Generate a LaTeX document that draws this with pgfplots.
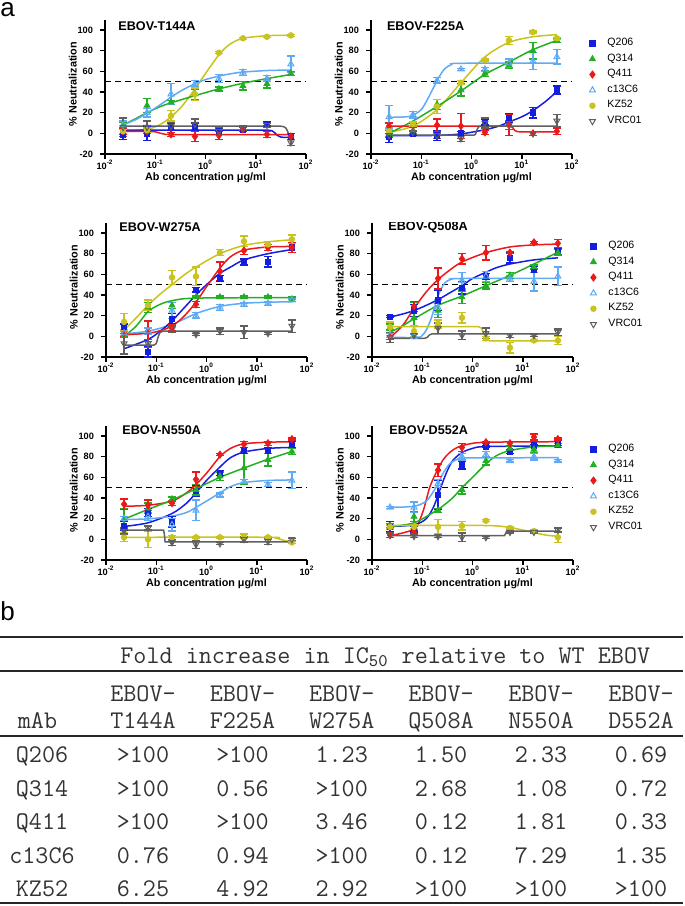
\documentclass[border=0pt]{standalone}
\usepackage{fontspec}
\setmainfont{Liberation Sans}
\usepackage{pgfplots}
\pgfplotsset{compat=1.18}

\definecolor{cQa}{RGB}{20,30,225}   % Q206
\definecolor{cQb}{RGB}{35,175,35}   % Q314
\definecolor{cQc}{RGB}{235,25,25}   % Q411
\definecolor{cC}{RGB}{95,170,245}   % c13C6
\definecolor{cK}{RGB}{200,195,30}   % KZ52
\definecolor{cV}{RGB}{95,95,95}     % VRC01

\tikzset{ttl/.style={anchor=west, font=\bfseries\fontsize{6.3}{7}\selectfont, inner sep=0pt}}

\pgfplotsset{
  every axis/.append style={
    scale only axis, width=100.5pt, height=67.15pt,
    xmin=0.01, xmax=100, ymin=-20, ymax=110,
    axis x line*=bottom, axis y line*=left,
    axis line style={line width=0.75pt, -},
    every tick/.style={black, line width=0.75pt},
    tick align=outside, major tick length=2.5pt,
    xminorticks=false,
    xtick={0.01,0.1,1,10,100},
    xticklabels={10\textsuperscript{-2},10\textsuperscript{-1},10\textsuperscript{0},10\textsuperscript{1},10\textsuperscript{2}},
    ytick={-20,0,20,40,60,80,100},
    yticklabels={-20,0,20,40,60,80,100},
    ticklabel style={font=\bfseries\fontsize{4.6}{5}\selectfont},
    xticklabel style={yshift=2.8pt},
    xlabel={Ab concentration μg/ml}, ylabel={\% Neutralization},
    label style={font=\bfseries\fontsize{5.4}{6}\selectfont},
    xlabel style={at={(axis description cs:0.5,-0.18)}, anchor=center},
    ylabel style={at={(axis description cs:-0.16,0.52)}, anchor=center},
    legend cell align=left,
    legend style={draw=none, fill=none, at={(axis description cs:1.05,0.9075)}, anchor=north west,
      font=\fontsize{5.3}{6}\selectfont, row sep=1.0pt, nodes={inner sep=0.8pt}},
    legend image code/.code={\draw[##1] plot coordinates {(0pt,0pt)}; \path (-1.8pt,0pt) (6.5pt,0pt);},
  },
  mkQa/.style={color=cQa, mark=square*, mark size=1.4pt},
  mkQb/.style={color=cQb, mark=triangle*, mark size=1.7pt},
  mkQc/.style={color=cQc, mark=diamond*, mark size=1.8pt},
  mkC/.style={color=cC, mark=triangle, mark size=1.7pt, mark options={line width=0.5pt}},
  mkK/.style={color=cK, mark=*, mark size=1.4pt},
  mkV/.style={color=cV, mark=triangle, mark size=1.7pt, mark options={rotate=180, line width=0.5pt}},
  errs/.style={forget plot, only marks,
    error bars/y dir=both, error bars/y explicit,
    error bars/error bar style={line width=0.7pt},
    error bars/error mark options={rotate=90, mark size=2pt, line width=0.7pt}},
  crv/.style={forget plot, no markers, line width=0.75pt},
  dash50/.style={forget plot, black, line width=0.75pt, dash pattern=on 3pt off 2pt},
}

\begin{document}
\begin{tikzpicture}
\path[use as bounding box] (0pt,0pt) rectangle (342.5pt,-453pt);
\node[anchor=base west, inner sep=0pt, text height=6.5pt, text depth=0pt, font=\fontsize{13}{13}\selectfont] at (0pt,-8.1pt) {a};
\node[anchor=base west, inner sep=0pt, font=\fontsize{13}{13}\selectfont] at (0pt,-310.35pt) {b};

% ---------- EBOV-T144A
\begin{semilogxaxis}[at={(52.5pt,-77pt)}, anchor=south west]
\node[ttl] at (rel axis cs:0.065,0.955) {EBOV-T144A};
\addplot[dash50] coordinates {(0.01,50) (100,50)};
\addplot[crv, cK, smooth] coordinates {(0.0229,1.5) (0.0686,4) (0.12,8) (0.206,16) (0.35,27) (0.617,43) (1,58) (1.85,76) (3,86) (5.56,92) (16.7,94.5) (50,95)};
\addplot[crv, cQb, smooth] coordinates {(0.0229,8) (0.04,14) (0.0686,20) (0.12,25.5) (0.206,29.5) (0.617,36.5) (1.85,43) (5.56,48.5) (16.7,53) (50,57)};
\addplot[crv, cC, smooth] coordinates {(0.0229,8.5) (0.04,13) (0.0686,19.5) (0.12,27) (0.206,35) (0.35,42) (0.617,48) (1,52) (1.85,55.5) (3.5,58) (5.56,59.3) (16.7,60.8) (50,61.3)};
\addplot[crv, cQa] coordinates {(0.0229,3) (18,3) (21,2.5) (24,0.5) (27,-2) (31,-3.5) (38,-4) (50,-4)};
\addplot[crv, cQc] coordinates {(0.0229,2) (0.07,2) (0.1,1.5) (0.13,0) (0.16,-1) (0.2,-1.2) (50,-1.2)};
\addplot[crv, cV] coordinates {(0.0229,7) (30,7) (36,6.5) (40,5) (43,2) (46,-2) (50,-8)};
\addplot[errs, mkQa] coordinates {(0.0229,-1)+-(0,5) (0.0686,0)+-(0,7) (0.206,7)+-(0,3) (0.617,6)+-(0,4) (1.85,2)+-(0,3) (5.56,4)+-(0,2) (16.7,9)+-(0,2) (50,-3)+-(0,3)};
\addplot[errs, mkQb] coordinates {(0.0229,8)+-(0,3) (0.0686,27)+-(0,7) (0.206,30)+-(0,2) (0.617,38)+-(0,5) (1.85,43)+-(0,2) (5.56,46)+-(0,4) (16.7,48)+-(0,4) (50,58)+-(0,2)};
\addplot[errs, mkQc] coordinates {(0.0229,2)+-(0,3) (0.0686,2)+-(0,2) (0.206,-1)+-(0,2) (0.617,-3)+-(0,5) (1.85,-2)+-(0,4) (5.56,4)+-(0,2) (16.7,-1)+-(0,3) (50,-3)+-(0,3)};
\addplot[errs, mkC] coordinates {(0.0229,8)+-(0,4) (0.0686,20)+-(0,4) (0.206,38)+-(0,10) (0.617,48)+-(0,3) (1.85,53)+-(0,4) (5.56,59)+-(0,3) (16.7,53)+-(0,3) (50,67)+-(0,8)};
\addplot[errs, mkK] coordinates {(0.0229,2)+-(0,2) (0.0686,3)+-(0,2) (0.206,17)+-(0,5) (0.617,38)+-(0,6) (1.85,78)+-(0,1) (5.56,92)+-(0,1) (16.7,93.5)+-(0,1) (50,94.8)+-(0,1)};
\addplot[errs, mkV] coordinates {(0.0229,6)+-(0,9) (0.0686,6)+-(0,6) (0.206,7)+-(0,3) (0.617,9)+-(0,5) (1.85,2)+-(0,3) (5.56,5)+-(0,2) (16.7,8)+-(0,2) (50,-9)+-(0,3)};
\end{semilogxaxis}

% ---------- EBOV-F225A
\begin{semilogxaxis}[at={(185.5pt,-77pt)}, anchor=south west]
\node[ttl] at (rel axis cs:0.078,0.955) {EBOV-F225A};
\addplot[dash50] coordinates {(0.01,50) (100,50)};
\addplot[crv, cK, smooth] coordinates {(0.0229,1) (0.0686,7) (0.206,23) (0.617,49) (1.85,74) (5.56,88) (16.7,93.5) (50,95.5)};
\addplot[crv, cQb, smooth] coordinates {(0.0229,0) (0.04,6) (0.0686,12) (0.206,26) (0.617,41) (1.85,57) (5.56,69) (16.7,81) (50,90)};
\addplot[crv, cC, smooth] coordinates {(0.0229,15.5) (0.05,16) (0.0686,17.5) (0.1,23) (0.13,32) (0.17,43) (0.206,51) (0.25,58) (0.3,63) (0.4,66.5) (0.6,67.8) (50,68)};
\addplot[crv, cQa, smooth] coordinates {(0.0229,-2.3) (0.206,-2) (0.617,-0.5) (1.85,3.5) (3.5,7) (5.56,11) (10,16) (16.7,22) (30,31) (50,40.5)};
\addplot[crv, cQc] coordinates {(0.0229,7) (5.5,7) (6.5,6) (7.2,3) (8,1.7) (9,1.5) (50,1.5)};
\addplot[crv, cV] coordinates {(0.0229,-1.8) (1.1,-1.8) (1.2,-1) (1.3,4) (1.4,6.5) (1.6,7) (50,7)};
\addplot[errs, mkQa] coordinates {(0.0229,-3)+-(0,6) (0.0686,0)+-(0,2) (0.206,-2)+-(0,5) (0.617,0)+-(0,2) (1.85,11)+-(0,3) (5.56,15)+-(0,4) (16.7,20)+-(0,5) (50,42)+-(0,4)};
\addplot[errs, mkQb] coordinates {(0.0229,0)+-(0,3) (0.0686,3)+-(0,3) (0.206,28)+-(0,5) (0.617,42)+-(0,6) (1.85,58)+-(0,3) (5.56,66)+-(0,3) (16.7,80)+-(0,8) (50,90)+-(0,2)};
\addplot[errs, mkQc] coordinates {(0.0229,7)+-(0,3) (0.0686,8)+-(0,2) (0.206,8)+-(0,6) (0.617,7)+-(0,12) (1.85,1)+-(0,2) (5.56,8)+-(0,10) (16.7,0)+-(0,2) (50,2)+-(0,3)};
\addplot[errs, mkC] coordinates {(0.0229,16)+-(0,11) (0.0686,18)+-(0,3) (0.206,51)+-(0,3) (0.617,62)+-(0,1) (1.85,62)+-(0,2) (5.56,68)+-(0,4) (16.7,70)+-(0,8) (50,74)+-(0,7)};
\addplot[errs, mkK] coordinates {(0.0229,2)+-(0,2) (0.0686,9)+-(0,2) (0.206,26)+-(0,7) (0.617,49)+-(0,2) (1.85,71)+-(0,1) (5.56,90)+-(0,4) (16.7,98)+-(0,1) (50,92)+-(0,1)};
\addplot[errs, mkV] coordinates {(0.0229,-2)+-(0,2) (0.0686,1)+-(0,2) (0.206,-2)+-(0,3) (0.617,-5)+-(0,3) (1.85,10)+-(0,5) (5.56,8)+-(0,4) (16.7,0)+-(0,2) (50,12)+-(0,6)};
\addlegendimage{mkQa}\addlegendentry{Q206}
\addlegendimage{mkQb}\addlegendentry{Q314}
\addlegendimage{mkQc}\addlegendentry{Q411}
\addlegendimage{mkC}\addlegendentry{c13C6}
\addlegendimage{mkK}\addlegendentry{KZ52}
\addlegendimage{mkV}\addlegendentry{VRC01}
\end{semilogxaxis}

% ---------- EBOV-W275A
\begin{semilogxaxis}[at={(53pt,-178.5pt)}, anchor=south west]
\node[ttl] at (rel axis cs:0.065,0.965) {EBOV-W275A};
\addplot[dash50] coordinates {(0.01,50) (100,50)};
\addplot[crv, cK, smooth] coordinates {(0.0229,6) (0.04,18) (0.0686,30) (0.12,41) (0.206,50) (0.35,59) (0.617,67) (1.85,80) (5.56,88) (16.7,91.5) (50,93.5)};
\addplot[crv, cQb, smooth] coordinates {(0.0229,0) (0.04,10) (0.0686,24) (0.12,31) (0.206,34.5) (0.617,37) (50,37.5)};
\addplot[crv, cC, smooth] coordinates {(0.0229,2.5) (0.0686,5) (0.206,11.5) (0.617,22) (1.85,29) (5.56,32) (16.7,33) (50,33.5)};
\addplot[crv, cQa, smooth] coordinates {(0.0229,-12) (0.0686,-3) (0.12,5) (0.206,15) (0.35,27) (0.617,40) (1,50) (1.85,61) (3,67) (5.56,74) (16.7,80) (50,84)};
\addplot[crv, cQc, smooth] coordinates {(0.0229,1.5) (0.0686,3) (0.12,5.5) (0.206,10) (0.35,19) (0.617,33) (1,48) (1.85,66) (3,77) (5.56,83.5) (16.7,86.5) (50,87)};
\addplot[crv, cV] coordinates {(0.0229,-8.5) (0.09,-8.5) (0.1,-7) (0.11,0) (0.12,4) (0.14,5) (50,5)};
\addplot[errs, mkQa] coordinates {(0.0229,9)+-(0,3) (0.0686,-15)+-(0,5) (0.206,17)+-(0,5) (0.617,45)+-(0,2) (1.85,56)+-(0,3) (5.56,72)+-(0,3) (16.7,72)+-(0,5) (50,86)+-(0,5)};
\addplot[errs, mkQb] coordinates {(0.0229,1)+-(0,2) (0.0686,28)+-(0,5) (0.206,30)+-(0,3) (0.617,38)+-(0,1) (1.85,38)+-(0,1) (5.56,38)+-(0,1) (16.7,38)+-(0,1) (50,36)+-(0,2)};
\addplot[errs, mkQc] coordinates {(0.0229,3)+-(0,3) (0.0686,5)+-(0,10) (0.206,8)+-(0,3) (0.617,31)+-(0,3) (1.85,63)+-(0,9) (5.56,83)+-(0,4) (16.7,86)+-(0,3) (50,86)+-(0,5)};
\addplot[errs, mkC] coordinates {(0.0229,3)+-(0,2) (0.0686,5)+-(0,3) (0.206,25)+-(0,8) (0.617,20)+-(0,3) (1.85,28)+-(0,3) (5.56,31)+-(0,2) (16.7,32)+-(0,2) (50,35)+-(0,1)};
\addplot[errs, mkK] coordinates {(0.0229,14)+-(0,8) (0.0686,30)+-(0,5) (0.206,57)+-(0,7) (0.617,58)+-(0,9) (1.85,81)+-(0,3) (5.56,92)+-(0,5) (16.7,89)+-(0,3) (50,94)+-(0,4)};
\addplot[errs, mkV] coordinates {(0.0229,-7)+-(0,10) (0.0686,-7)+-(0,4) (0.206,7)+-(0,3) (0.617,2)+-(0,1) (1.85,5)+-(0,3) (5.56,4)+-(0,6) (16.7,3)+-(0,1) (50,10)+-(0,6)};
\end{semilogxaxis}

% ---------- EBOV-Q508A
\begin{semilogxaxis}[at={(186pt,-178.5pt)}, anchor=south west]
\node[ttl] at (rel axis cs:0.08,0.965) {EBOV-Q508A};
\addplot[dash50] coordinates {(0.01,50) (100,50)};
\addplot[crv, cQc, smooth] coordinates {(0.0229,-1) (0.04,10) (0.0686,27) (0.12,43) (0.206,55) (0.35,64) (0.617,72) (1.85,81) (5.56,86.5) (16.7,88.5) (50,89.3)};
\addplot[crv, cQa, smooth] coordinates {(0.0229,18.7) (0.04,21.5) (0.0686,25) (0.12,30) (0.206,35.5) (0.35,42) (0.617,49) (1,56) (1.85,62) (3,66.5) (5.56,70) (16.7,74) (50,76)};
\addplot[crv, cQb, smooth] coordinates {(0.0229,4) (0.04,10) (0.0686,17) (0.206,30) (0.617,39) (1.85,49) (5.56,59) (16.7,70) (50,81.5)};
\addplot[crv, cC, smooth] coordinates {(0.0229,-1) (0.08,-1) (0.1,1) (0.12,6) (0.15,17) (0.18,30) (0.21,40) (0.25,48) (0.3,53) (0.4,55.5) (0.6,56) (50,56)};
\addplot[crv, cK] coordinates {(0.0229,9.5) (1.3,9.5) (1.5,8) (1.7,2) (1.9,-3) (2.2,-4.5) (50,-4.5)};
\addplot[crv, cV] coordinates {(0.0229,-2) (0.11,-2) (0.125,-1) (0.14,1.5) (0.16,2.5) (50,2.5)};
\addplot[errs, mkQa] coordinates {(0.0229,19)+-(0,1) (0.0686,25)+-(0,6) (0.206,35)+-(0,10) (0.617,47)+-(0,6) (1.85,58)+-(0,3) (5.56,76)+-(0,5) (16.7,65)+-(0,3) (50,82)+-(0,3)};
\addplot[errs, mkQb] coordinates {(0.0229,9)+-(0,3) (0.0686,18)+-(0,15) (0.206,25)+-(0,7) (0.617,38)+-(0,6) (1.85,49)+-(0,3) (5.56,59)+-(0,3) (16.7,67)+-(0,2) (50,81)+-(0,3)};
\addplot[errs, mkQc] coordinates {(0.0229,0)+-(0,3) (0.0686,29)+-(0,5) (0.206,56)+-(0,10) (0.617,75)+-(0,5) (1.85,81)+-(0,7) (5.56,81)+-(0,1) (16.7,91)+-(0,1) (50,90)+-(0,4)};
\addplot[errs, mkC] coordinates {(0.0229,1)+-(0,2) (0.0686,0)+-(0,2) (0.206,28)+-(0,7) (0.617,54)+-(0,8) (1.85,58)+-(0,5) (5.56,56)+-(0,3) (16.7,53)+-(0,9) (50,58)+-(0,9)};
\addplot[errs, mkK] coordinates {(0.0229,9)+-(0,5) (0.0686,5)+-(0,5) (0.206,12)+-(0,4) (0.617,18)+-(0,5) (1.85,-2)+-(0,2) (5.56,-11)+-(0,5) (16.7,-4)+-(0,1) (50,-4)+-(0,4)};
\addplot[errs, mkV] coordinates {(0.0229,-1)+-(0,5) (0.0686,1)+-(0,2) (0.206,8)+-(0,5) (0.617,1)+-(0,4) (1.85,3)+-(0,5) (5.56,1)+-(0,2) (16.7,1)+-(0,1) (50,4)+-(0,3)};
\addlegendimage{mkQa}\addlegendentry{Q206}
\addlegendimage{mkQb}\addlegendentry{Q314}
\addlegendimage{mkQc}\addlegendentry{Q411}
\addlegendimage{mkC}\addlegendentry{c13C6}
\addlegendimage{mkK}\addlegendentry{KZ52}
\addlegendimage{mkV}\addlegendentry{VRC01}
\end{semilogxaxis}

% ---------- EBOV-N550A
\begin{semilogxaxis}[at={(53pt,-280pt)}, anchor=south west]
\node[ttl] at (rel axis cs:0.08,0.968) {EBOV-N550A};
\addplot[dash50] coordinates {(0.01,50) (100,50)};
\addplot[crv, cQc, smooth] coordinates {(0.0229,32) (0.0686,33) (0.206,37) (0.4,45) (0.617,53) (1,64) (1.85,80) (3,88) (5.56,92.5) (16.7,94) (50,94.5)};
\addplot[crv, cQa, smooth] coordinates {(0.0229,12.5) (0.0686,16) (0.206,25) (0.4,35) (0.617,45) (1,57) (1.85,70) (3,79) (5.56,84.5) (16.7,88) (50,89)};
\addplot[crv, cQb, smooth] coordinates {(0.0229,19.5) (0.0686,29) (0.206,38) (0.617,49) (1.85,60) (5.56,69) (16.7,77.5) (50,85)};
\addplot[crv, cC, smooth] coordinates {(0.0229,19.3) (0.0686,19.8) (0.206,22.5) (0.4,26) (0.617,31) (1,37) (1.85,45) (3,51) (5.56,55) (16.7,57) (50,57.5)};
\addplot[crv, cK, smooth] coordinates {(0.0229,2) (16.7,2) (25,1) (35,-1) (50,-2.5)};
\addplot[crv, cV] coordinates {(0.0229,9) (0.14,9) (0.145,5) (0.15,-2.5) (50,-2.5)};
\addplot[errs, mkQa] coordinates {(0.0229,13)+-(0,4) (0.0686,26)+-(0,4) (0.206,17)+-(0,5) (0.617,47)+-(0,5) (1.85,64)+-(0,2) (5.56,86)+-(0,3) (16.7,86)+-(0,3) (50,92)+-(0,3)};
\addplot[errs, mkQb] coordinates {(0.0229,20)+-(0,10) (0.0686,30)+-(0,5) (0.206,39)+-(0,2) (0.617,48)+-(0,5) (1.85,61)+-(0,4) (5.56,69)+-(0,16) (16.7,77)+-(0,6) (50,85)+-(0,3)};
\addplot[errs, mkQc] coordinates {(0.0229,34)+-(0,5) (0.0686,33)+-(0,5) (0.206,35)+-(0,2) (0.617,58)+-(0,7) (1.85,82)+-(0,1) (5.56,92)+-(0,3) (16.7,93)+-(0,2) (50,97)+-(0,1)};
\addplot[errs, mkC] coordinates {(0.0229,20)+-(0,2) (0.0686,22)+-(0,4) (0.206,14)+-(0,6) (0.617,28)+-(0,10) (1.85,43)+-(0,2) (5.56,56)+-(0,2) (16.7,53)+-(0,2) (50,57)+-(0,8)};
\addplot[errs, mkK] coordinates {(0.0229,2)+-(0,4) (0.0686,0)+-(0,8) (0.206,2)+-(0,2) (0.617,2)+-(0,1) (1.85,2)+-(0,1) (5.56,3)+-(0,2) (16.7,2)+-(0,1) (50,-3)+-(0,1)};
\addplot[errs, mkV] coordinates {(0.0229,8)+-(0,3) (0.0686,11)+-(0,2) (0.206,-3)+-(0,3) (0.617,-5)+-(0,4) (1.85,-4)+-(0,1) (5.56,0)+-(0,3) (16.7,-2)+-(0,3) (50,0)+-(0,1)};
\end{semilogxaxis}

% ---------- EBOV-D552A
\begin{semilogxaxis}[at={(186pt,-280pt)}, anchor=south west]
\node[ttl] at (rel axis cs:0.085,0.968) {EBOV-D552A};
\addplot[dash50] coordinates {(0.01,50) (100,50)};
\addplot[crv, cQc, smooth] coordinates {(0.0229,3.5) (0.0686,10) (0.1,25) (0.12,38) (0.14,50) (0.17,60) (0.206,68) (0.26,77) (0.35,84) (0.5,89) (0.8,92) (1.85,94) (50,94.5)};
\addplot[crv, cQa, smooth] coordinates {(0.0229,12.5) (0.0686,14) (0.12,20) (0.17,32) (0.233,50) (0.3,64) (0.4,76) (0.617,84) (1,88) (1.85,89.8) (50,90.5)};
\addplot[crv, cQb, smooth] coordinates {(0.0229,12.5) (0.0686,16) (0.206,29) (0.4,40) (0.617,50) (1,60) (1.85,73) (3,81) (5.56,86) (16.7,89.5) (50,90.5)};
\addplot[crv, cC, smooth] coordinates {(0.0229,31) (0.0686,32) (0.12,37) (0.17,47) (0.206,54) (0.26,64) (0.35,73) (0.5,77.5) (0.8,78.8) (50,79)};
\addplot[crv, cK, smooth] coordinates {(0.0229,13.5) (1,13.5) (3,13) (5.56,11.5) (10,9) (16.7,6.5) (30,4) (50,3)};
\addplot[crv, cV] coordinates {(0.0229,3.5) (4.3,3.5) (4.5,5) (4.8,8) (50,8)};
\addplot[errs, mkQa] coordinates {(0.0229,12)+-(0,5) (0.0686,10)+-(0,3) (0.206,43)+-(0,14) (0.617,72)+-(0,4) (1.85,90)+-(0,1) (5.56,85)+-(0,2) (16.7,91)+-(0,1) (50,92)+-(0,1)};
\addplot[errs, mkQb] coordinates {(0.0229,13)+-(0,2) (0.0686,22)+-(0,5) (0.206,28)+-(0,2) (0.617,48)+-(0,4) (1.85,76)+-(0,4) (5.56,88)+-(0,2) (16.7,87)+-(0,3) (50,91)+-(0,2)};
\addplot[errs, mkQc] coordinates {(0.0229,4)+-(0,2) (0.0686,7)+-(0,2) (0.206,67)+-(0,6) (0.617,89)+-(0,4) (1.85,94)+-(0,1) (5.56,93)+-(0,2) (16.7,99)+-(0,3) (50,97)+-(0,1)};
\addplot[errs, mkC] coordinates {(0.0229,31)+-(0,1) (0.0686,31)+-(0,5) (0.206,54)+-(0,4) (0.617,80)+-(0,3) (1.85,82)+-(0,3) (5.56,76)+-(0,1) (16.7,80)+-(0,3) (50,76)+-(0,1)};
\addplot[errs, mkK] coordinates {(0.0229,12)+-(0,2) (0.0686,12)+-(0,2) (0.206,12)+-(0,7) (0.617,13)+-(0,4) (1.85,18)+-(0,1) (5.56,11)+-(0,1) (16.7,8)+-(0,1) (50,2)+-(0,5)};
\addplot[errs, mkV] coordinates {(0.0229,4)+-(0,2) (0.0686,3)+-(0,1) (0.206,3)+-(0,1) (0.617,2)+-(0,4) (1.85,2)+-(0,1) (5.56,7)+-(0,1) (16.7,7)+-(0,1) (50,9)+-(0,2)};
\addlegendimage{mkQa}\addlegendentry{Q206}
\addlegendimage{mkQb}\addlegendentry{Q314}
\addlegendimage{mkQc}\addlegendentry{Q411}
\addlegendimage{mkC}\addlegendentry{c13C6}
\addlegendimage{mkK}\addlegendentry{KZ52}
\addlegendimage{mkV}\addlegendentry{VRC01}
\end{semilogxaxis}

% ---------- table (b)
\draw[line width=0.9pt, black!85] (0pt,-318.5pt) -- (341.5pt,-318.5pt);
\draw[line width=0.9pt, black!85] (0pt,-335.5pt) -- (341.5pt,-335.5pt);
\draw[line width=0.7pt, black!85] (0pt,-368pt) -- (341.5pt,-368pt);
\draw[line width=0.9pt, black!85] (0pt,-451.5pt) -- (341.5pt,-451.5pt);
\begin{scope}[every node/.style={font=\ttfamily\fontsize{12.7}{13}\selectfont, text=black!80, inner sep=0pt}]
\node[anchor=base west] at (60pt,-331.65pt) {Fold increase in IC\textsubscript{50} relative to WT EBOV};
\node[anchor=base] at (18.75pt,-364.15pt) {mAb};
\foreach \x/\m in {71.5/T144A,121.25/F225A,170.85/W275A,220.5/Q508A,270.5/N550A,320.5/D552A}{
  \node[anchor=base] at (\x pt,-350.85pt) {EBOV-};
  \node[anchor=base] at (\x pt,-364.15pt) {\m};
}
\foreach \y/\a/\b/\c/\d/\e/\f/\g in {
  381.25/Q206/>100/>100/1.23/1.50/2.33/0.69,
  398/Q314/>100/0.56/>100/2.68/1.08/0.72,
  414.75/Q411/>100/>100/3.46/0.12/1.81/0.33,
  431.5/c13C6/0.76/0.94/>100/0.12/7.29/1.35,
  448.15/KZ52/6.25/4.92/2.92/>100/>100/>100}{
  \node[anchor=base] at (21pt,-\y pt) {\a};
  \node[anchor=base] at (71.5pt,-\y pt) {\b};
  \node[anchor=base] at (121.25pt,-\y pt) {\c};
  \node[anchor=base] at (170.85pt,-\y pt) {\d};
  \node[anchor=base] at (220.5pt,-\y pt) {\e};
  \node[anchor=base] at (270.5pt,-\y pt) {\f};
  \node[anchor=base] at (320.5pt,-\y pt) {\g};
}
\end{scope}
\end{tikzpicture}
\end{document}
